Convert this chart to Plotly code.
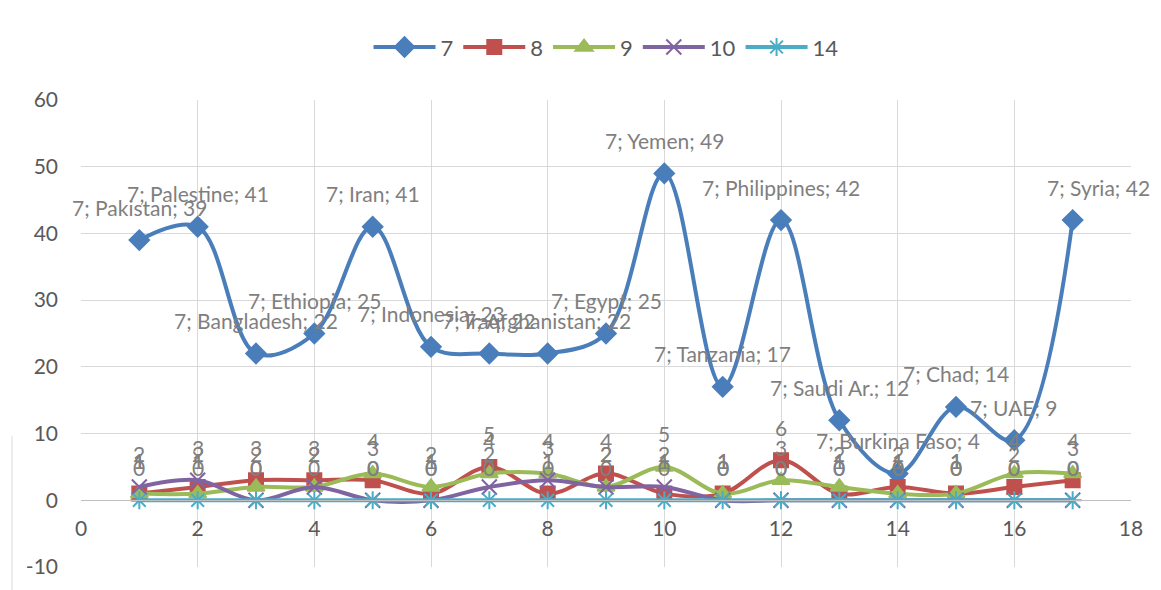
import plotly.graph_objects as go

# Data
x_vals = list(range(1, 18))
countries = ["Pakistan", "Palestine", "Bangladesh", "Ethiopia", "Iran", "Indonesia",
             "Iraq", "Afghanistan", "Egypt", "Yemen", "Tanzania", "Philippines",
             "Saudi Ar.", "Burkina Faso", "Chad", "UAE", "Syria"]
s7 = [39, 41, 22, 25, 41, 23, 22, 22, 25, 49, 17, 42, 12, 4, 14, 9, 42]
s8 = [1, 2, 3, 3, 3, 1, 5, 1, 4, 1, 1, 6, 1, 2, 1, 2, 3]
s9 = [1, 1, 2, 2, 4, 2, 4, 4, 2, 5, 1, 3, 2, 1, 1, 4, 4]
s10 = [2, 3, 0, 2, 0, 0, 2, 3, 2, 2, 0, 0, 0, 0, 0, 0, 0]
s14 = [0] * 17

y_tickvals = [-10, 0, 10, 20, 30, 40, 50, 60]
y_ticktext = ["-10", "0", "10", "20", "30", "40", "50", "60"]

series = [
    ("7", s7, "#4A7EBB", "diamond", 15),
    ("8", s8, "#C0504D", "square", 14),
    ("9", s9, "#9BBB59", "triangle-up", 15),
    ("10", s10, "#8064A2", "x-thin-open", 15),
    ("14", s14, "#4BACC6", "asterisk-open", 15),
]

FONT = "Lato, Calibri, Carlito, sans-serif"
LABEL_COLOR = "#7F7F7F"
LABEL_SIZE = 21

fig = go.Figure()
for name, vals, color, symbol, msize in series:
    fig.add_trace(go.Scatter(
        x=x_vals, y=vals, name=name, mode="lines+markers",
        line=dict(color=color, width=4, shape="spline", smoothing=1),
        marker=dict(symbol=symbol, size=msize, color=color,
                    line=dict(color=color, width=2)),
    ))

annotations = []
# Labels for series 7: "7; country; value"
for xv, c, v in zip(x_vals, countries, s7):
    annotations.append(dict(
        x=xv, y=v, text=f"7; {c}; {v}", showarrow=False, yshift=33,
        xshift=26 if c == "Syria" else 0,
        font=dict(family=FONT, size=LABEL_SIZE, color=LABEL_COLOR),
        xanchor="center", yanchor="middle"))
# Value labels for the other series
for vals in (s8, s9, s10, s14):
    for xv, v in zip(x_vals, vals):
        annotations.append(dict(
            x=xv, y=v, text=str(v), showarrow=False, yshift=33,
            font=dict(family=FONT, size=LABEL_SIZE, color=LABEL_COLOR),
            xanchor="center", yanchor="middle"))

fig.update_layout(
    width=1161, height=590,
    margin=dict(l=81, r=30, t=100, b=23),
    paper_bgcolor="white", plot_bgcolor="white",
    font=dict(family=FONT, size=20, color="#595959"),
    showlegend=True,
    legend=dict(orientation="h", x=0.5, xanchor="center", y=1.113, yanchor="middle",
                font=dict(family=FONT, size=22, color="#595959"),
                itemwidth=62, traceorder="normal"),
    annotations=annotations,
    xaxis=dict(range=[0, 18], dtick=2, tick0=0, showgrid=True, gridcolor="#D9D9D9",
               gridwidth=1, zeroline=False, showline=True, linecolor="#BFBFBF",
               linewidth=1, anchor="free", position=10 / 70, ticks="",
               ticklabelstandoff=10,
               tickfont=dict(family=FONT, size=21, color="#595959")),
    yaxis=dict(range=[-10, 60], tickvals=y_tickvals, ticktext=y_ticktext,
               showgrid=True, gridcolor="#D9D9D9",
               gridwidth=1, zeroline=False, showline=False, ticks="",
               ticklabelstandoff=22,
               tickfont=dict(family=FONT, size=21, color="#595959")),
    shapes=[dict(type="line", xref="paper", yref="paper", x0=-0.0657, x1=-0.0657,
                 y0=-0.06, y1=0.28, line=dict(color="#D9D9D9", width=1))],
)

fig.write_html("out.html")
